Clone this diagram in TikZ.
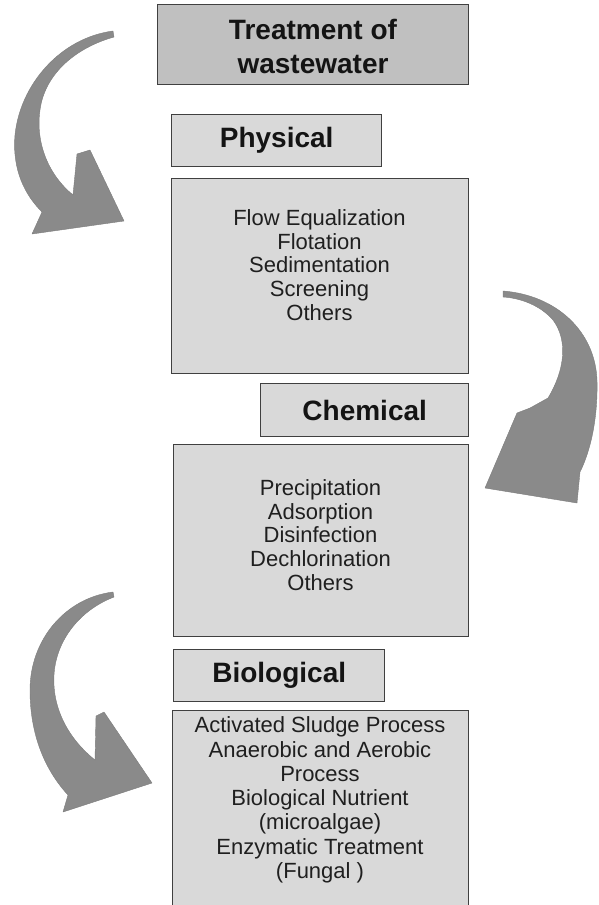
\documentclass[tikz,border=0pt]{standalone}
\usepackage{fontspec}
\setmainfont{Liberation Sans}
\begin{document}
\begin{tikzpicture}[x=1pt,y=-1pt,
  box/.style={draw=black!75, line width=1.4pt, fill=boxgray, anchor=north west, inner sep=0pt},
  head/.style={font=\fontsize{28}{34}\selectfont\bfseries, text=black!92, align=center},
  items/.style={font=\fontsize{22}{23.6}\selectfont, text=black!88, align=center},
  bigarrow/.style={fill=arrowgray, draw=arrowgray!90!black, line width=0.4pt, line join=round}]
\definecolor{boxgray}{HTML}{D9D9D9}
\definecolor{titlegray}{HTML}{C0C0C0}
\definecolor{arrowgray}{HTML}{8A8A8A}
\useasboundingbox (0,0) rectangle (598,905);

% boxes
\node[box, fill=titlegray, minimum width=311pt, minimum height=80pt] (tbox) at (157,4) {};
\node[box, minimum width=210pt, minimum height=52pt] (pbox) at (171,114) {};
\node[box, minimum width=297pt, minimum height=195pt] (plist) at (171,178) {};
\node[box, minimum width=208pt, minimum height=53pt] (cbox) at (260,383) {};
\node[box, minimum width=295pt, minimum height=192pt] (clist) at (173,444) {};
\node[box, minimum width=211pt, minimum height=52pt] (bbox) at (173,649) {};
\node[box, minimum width=296pt, minimum height=200pt] (blist) at (172,710) {};

% texts
\node[head] (ttext) at (313,46) {Treatment of\\wastewater};
\node[head] (ptext) at (pbox.center) {Physical};
\node[head] (ctext) at (cbox.center) {Chemical};
\node[head] (btext) at (bbox.center) {Biological};
\node[items] (pitems) at (319.5,265) {Flow Equalization\\Flotation\\Sedimentation\\Screening\\Others};
\node[items] (citems) at (320.5,535) {Precipitation\\Adsorption\\Disinfection\\Dechlorination\\Others};
\node[items, font=\fontsize{22}{24.3}\selectfont] (bitems) at (320,800) {Activated Sludge Process\\Anaerobic and Aerobic\\Process\\Biological Nutrient\\(microalgae)\\Enzymatic Treatment\\(Fungal )};

% curved arrows
\fill[bigarrow] (113,31) .. controls (60,38) and (20,85) .. (15,135)
  .. controls (12,170) and (25,195) .. (42,212) -- (32,234) -- (124,221)
  -- (90,150) -- (77,154) -- (73,195)
  .. controls (45,172) and (33,135) .. (42,100)
  .. controls (52,65) and (85,45) .. (114,37) -- cycle;

\fill[bigarrow] (503,291) .. controls (555,295) and (595,330) .. (597,380)
  .. controls (598,420) and (590,452) .. (580,472) -- (577,503) -- (485,488)
  -- (517,413) -- (530,408) -- (548,398)
  .. controls (565,370) and (568,340) .. (553,320)
  .. controls (540,305) and (520,298) .. (503,297) -- cycle;

\fill[bigarrow] (113,592) .. controls (65,598) and (30,640) .. (30,690)
  .. controls (30,735) and (45,770) .. (68,795) -- (63,812) -- (152,783)
  -- (104,712) -- (96,716) -- (95,760)
  .. controls (70,740) and (52,710) .. (54,675)
  .. controls (56,640) and (80,610) .. (114,597) -- cycle;
\end{tikzpicture}
\end{document}
